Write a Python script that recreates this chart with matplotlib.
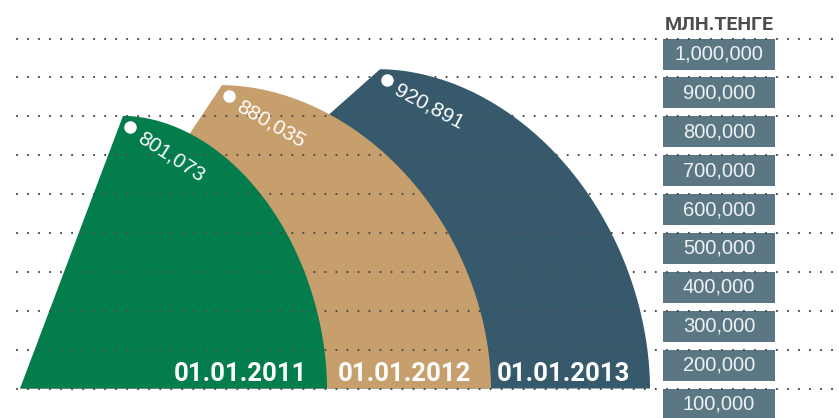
import numpy as np
import matplotlib.pyplot as plt
from matplotlib import font_manager
from matplotlib.patches import Polygon, Rectangle

# данные
dates = ["01.01.2011", "01.01.2012", "01.01.2013"]
values = [801073, 880035, 920891]
value_labels = ["801,073", "880,035", "920,891"]
colors = ["#037d4c", "#c79f6c", "#365a6b"]

ticks = [100000, 200000, 300000, 400000, 500000, 600000, 700000, 800000, 900000, 1000000]
tick_labels = ["100,000", "200,000", "300,000", "400,000", "500,000",
               "600,000", "700,000", "800,000", "900,000", "1,000,000"]
unit_title = "МЛН.ТЕНГЕ"

# раскладка (пиксели по горизонтали)
left_x = [20, 20, 20]
peak_x = [123, 222, 380]
right_x = [327, 491, 650]
label_rot = [-33, -30, -28]

names = {f.name for f in font_manager.fontManager.ttflist}
narrow = "Roboto" if "Roboto" in names else "DejaVu Sans"
regular = "Liberation Sans" if "Liberation Sans" in names else "DejaVu Sans"

plt.rcParams["lines.scale_dashes"] = False

W, H = 839, 418
fig = plt.figure(figsize=(W / 100, H / 100), dpi=100)
ax = fig.add_axes([0, 0, 1, 1])
ax.axis("off")

base = ticks[0]
px = (ticks[-1] - ticks[0]) / 350  # value per pixel
ax.set_xlim(0, W)
ax.set_ylim(base - (H - 388.5) * px, base + 388.5 * px)

# сектора
p = 1.9
theta = np.linspace(np.pi / 2, 0, 300)
for i in reversed(range(len(values))):
    v = values[i]
    xs = peak_x[i] + (right_x[i] - peak_x[i]) * np.cos(theta) ** (2 / p)
    ys = base + (v - base) * np.sin(theta) ** (2 / p)
    pts = [(left_x[i], base)] + list(zip(xs, ys))
    ax.add_patch(Polygon(pts, closed=True, fc=colors[i], ec="none", zorder=1 + (2 - i)))

    ax.plot(peak_x[i] + 7, v - 11 * px, "o", ms=9, color="white", mec="none", zorder=7)
    ax.text(peak_x[i] + 16, v - 20 * px, value_labels[i], rotation=label_rot[i],
            rotation_mode="anchor", ha="left", va="center", color="white",
            fontsize=15, fontweight="medium", family=regular, zorder=7)
    ax.text(right_x[i] - 20, base + 7.5 * px, dates[i], ha="right", va="baseline",
            color="white", fontsize=18.5, fontweight="bold", family=narrow, zorder=7)

# шкала справа
for t, lab in zip(ticks, tick_labels):
    ax.add_patch(Rectangle((663, t - 31 * px), 112, 31 * px, fc="#5c7784", ec="none", zorder=4))
    ax.text(719, t - 15.5 * px, lab, ha="center", va="center", color="#eef2f4",
            fontsize=14.5, family=regular, zorder=6)
    ax.plot([16.5, W + 5], [t, t], color="#4a4a4a", lw=1.6, ls=(0, (0.01, 7.92)),
            dash_capstyle="round", zorder=5)

ax.text(719, base + (388.5 - 30.5) * px, unit_title, ha="center", va="baseline",
        color="#4d4d4d", fontsize=14, fontweight="bold", family=narrow)

fig.savefig("out.png", dpi=100)
